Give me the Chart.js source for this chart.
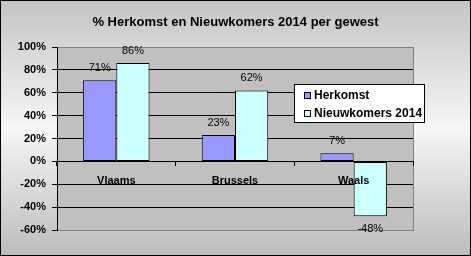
<!DOCTYPE html>
<html>
<head>
<meta charset="utf-8">
<script src="https://cdn.jsdelivr.net/npm/chart.js@4/dist/chart.umd.min.js"></script>
<style>
	body { margin: 0; background: #fff; }
	canvas { display: block; }
</style>
</head>
<body>
<canvas id="chartDisplay" width="471" height="256"></canvas>
<script>
const titleText = "% Herkomst en Nieuwkomers 2014 per gewest";
const regions = ["Vlaams", "Brussels", "Waals"];
const seriesNames = ["Herkomst", "Nieuwkomers 2014"];
const herkomst = [71, 23, 7];
const nieuwkomers = [86, 62, -48];
const yTicks = [100, 80, 60, 40, 20, 0, -20, -40, -60];

const fontFamily = "'Liberation Sans', Arial, sans-serif";
Chart.defaults.font.family = fontFamily;
Chart.defaults.color = "#000";

/**
 * Paint the gradient background, grey plot area, title and frame
 */
const backdrop = {
	id: "backdrop",
	beforeDraw(chart) {
		const ctx = chart.ctx;
		const a = chart.chartArea;
		const g = ctx.createLinearGradient(0, 0, 0, chart.height);
		g.addColorStop(0, "#c4c4c4");
		g.addColorStop(0.5, "#f6f6f6");
		g.addColorStop(1, "#bcbcbc");
		ctx.save();
		ctx.fillStyle = g;
		ctx.fillRect(0, 0, chart.width, chart.height);
		ctx.fillStyle = "#c0c0c0";
		ctx.fillRect(a.left, a.top, a.right - a.left, a.bottom - a.top);
		ctx.strokeStyle = "#808080";
		ctx.lineWidth = 1;
		ctx.strokeRect(Math.round(a.left) + 0.5, Math.round(a.top) + 0.5,
			Math.round(a.right - a.left), Math.round(a.bottom - a.top));

		// title, centred on the whole picture
		ctx.font = "bold 13px " + fontFamily;
		ctx.fillStyle = "#000";
		ctx.textAlign = "center";
		ctx.textBaseline = "middle";
		ctx.fillText(titleText, chart.width / 2, 22);
		ctx.restore();
	},
	afterDraw(chart) {
		const ctx = chart.ctx;
		ctx.save();
		ctx.strokeStyle = "#000";
		ctx.lineWidth = 1;
		ctx.strokeRect(0.5, 0.5, chart.width - 1, chart.height - 1);
		ctx.restore();
	}
};

/**
 * Value labels above / below each bar
 */
const valueLabels = {
	id: "valueLabels",
	afterDatasetsDraw(chart) {
		const ctx = chart.ctx;
		ctx.save();
		ctx.font = "11px " + fontFamily;
		ctx.fillStyle = "#000";
		ctx.textAlign = "center";
		ctx.textBaseline = "middle";
		chart.data.datasets.forEach((ds, i) => {
			chart.getDatasetMeta(i).data.forEach((bar, j) => {
				const v = ds.data[j];
				const y = v >= 0 ? bar.y - 12 : bar.y + 13;
				ctx.fillText(v + "%", bar.x, y);
			});
		});
		ctx.restore();
	}
};

/**
 * Boxed legend sitting over the right side of the plot
 */
const boxLegend = {
	id: "boxLegend",
	afterDraw(chart) {
		const ctx = chart.ctx;
		const x = 294, y = 84, w = 130, h = 38;
		ctx.save();
		ctx.fillStyle = "#fff";
		ctx.fillRect(x, y, w, h);
		ctx.strokeStyle = "#000";
		ctx.lineWidth = 1;
		ctx.strokeRect(x + 0.5, y + 0.5, w, h);
		ctx.font = "bold 12px " + fontFamily;
		ctx.textAlign = "left";
		ctx.textBaseline = "middle";
		chart.data.datasets.forEach((ds, i) => {
			const cy = y + 11 + i * 18;
			ctx.fillStyle = ds.backgroundColor;
			ctx.fillRect(x + 10, cy - 3, 7, 7);
			ctx.strokeRect(x + 10.5, cy - 2.5, 6, 6);
			ctx.fillStyle = "#000";
			ctx.fillText(ds.label, x + 20, cy + 1);
		});
		ctx.restore();
	}
};

new Chart(document.getElementById("chartDisplay"), {
	type: "bar",
	data: {
		labels: regions,
		datasets: [{
			label: seriesNames[0],
			data: herkomst,
			backgroundColor: "#9999ff",
			borderColor: "#000",
			borderWidth: 1,
			borderSkipped: false
		},
		{
			label: seriesNames[1],
			data: nieuwkomers,
			backgroundColor: "#ccffff",
			borderColor: "#000",
			borderWidth: 1,
			borderSkipped: false
		}]
	},
	options: {
		responsive: false,
		animation: false,
		layout: {
			padding: { left: 10, right: 58, top: 47, bottom: 26 }
		},
		datasets: {
			bar: { categoryPercentage: 0.56, barPercentage: 1 }
		},
		plugins: {
			legend: { display: false },
			tooltip: { enabled: false },
			title: { display: false }
		},
		scales: {
			x: {
				position: { y: 0 },
				grid: {
					drawOnChartArea: false,
					drawTicks: true,
					tickLength: 4,
					color: "#000"
				},
				border: { display: true, color: "#000" },
				ticks: {
					z: 1,
					font: { size: 11, weight: "bold" },
					color: "#000",
					padding: 9
				}
			},
			y: {
				min: -60,
				max: 100,
				afterBuildTicks: scale => {
					scale.ticks = yTicks.map(v => ({ value: v }));
				},
				afterFit: scale => {
					scale.width = 47;
				},
				grid: {
					color: c => (c.tick && (c.tick.value === 100 || c.tick.value === -60)) ? "#808080" : "#000",
					tickColor: "#000",
					tickLength: 5
				},
				border: { display: true, color: "#000" },
				ticks: {
					font: { size: 11, weight: "bold" },
					color: "#000",
					padding: 6,
					callback: v => v + "%"
				}
			}
		}
	},
	plugins: [backdrop, valueLabels, boxLegend]
});
</script>
</body>
</html>
